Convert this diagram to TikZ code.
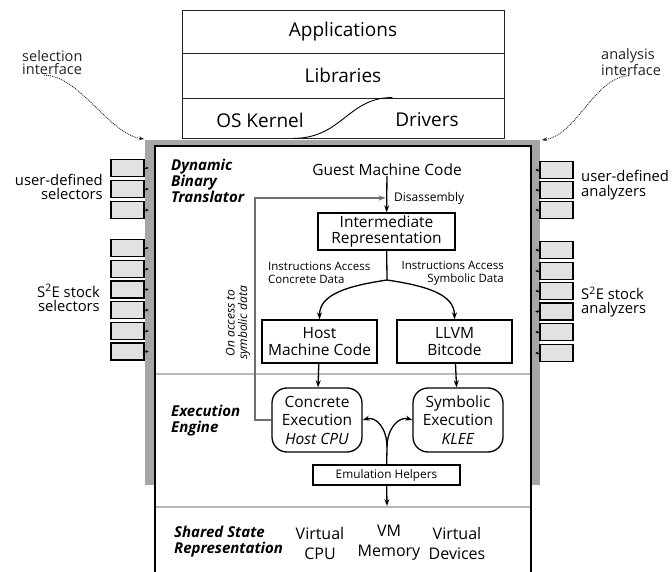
\documentclass[tikz,border=0pt]{standalone}
\usepackage{fontspec}
\setmainfont{Open Sans}
\usetikzlibrary{arrows.meta, positioning, calc}
\definecolor{FrameGray}{HTML}{A6A6A6}
\definecolor{RuleGray}{HTML}{B8B8B8}
\definecolor{PlugFill}{HTML}{E2E2E2}
\definecolor{LoopGray}{HTML}{6E6E6E}
\definecolor{InkDark}{HTML}{222222}

\begin{document}
\begin{tikzpicture}[x=1pt, y=-1pt,
  layer/.style={draw=InkDark, line width=0.9pt, minimum width=322pt,
                inner sep=0pt, font=\fontsize{19}{20}\selectfont},
  box/.style={draw=black, line width=1.3pt, fill=white, align=center,
              inner sep=0pt, font=\fontsize{15.5}{16.5}\selectfont},
  engine/.style={box, rounded corners=15pt, minimum width=90pt, minimum height=64pt,
                 font=\fontsize{15.5}{18.5}\selectfont},
  txt/.style={align=center, inner sep=0pt, font=\fontsize{15.5}{20}\selectfont},
  sect/.style={align=left, inner sep=0pt, font=\fontsize{15}{16}\selectfont\bfseries\itshape},
  lbl/.style={inner sep=0pt, font=\fontsize{11.5}{12.5}\selectfont},
  side/.style={inner sep=0pt, font=\fontsize{14.8}{14.5}\selectfont},
  note/.style={inner sep=0pt, align=left, text=InkDark, font=\fontsize{14.5}{13}\selectfont},
  plug/.style={draw=black, line width=1.3pt, fill=PlugFill, minimum width=33pt,
               minimum height=17pt, inner sep=0pt},
  arr/.style={-{Stealth[length=7pt, width=5pt]}, line width=1.3pt},
  tick/.style={-{Stealth[length=3pt, width=3pt]}, line width=0.8pt},
  fb/.style={-{Stealth[length=7pt, width=5pt]}, line width=1.3pt, LoopGray},
  hint/.style={-{Stealth[length=5pt, width=4pt]}, line width=0.9pt, densely dotted, InkDark},
]
  \useasboundingbox (0,0) rectangle (672,572);

  % software stack
  \node[layer, minimum height=43pt] (apps) at (343,31.5) {Applications};
  \node[layer, minimum height=45pt] (libs) at (343,75.5) {Libraries};
  \node[layer, minimum height=40pt] (osrow) at (343,118) {};
  \node[txt, font=\fontsize{19}{20}\selectfont] (kernel) at (260,120) {OS Kernel};
  \node[txt, font=\fontsize{19}{20}\selectfont] (drivers) at (427,120) {Drivers};
  \draw[line width=0.9pt] (osrow.south west) ++(111,0) .. controls +(50,0) and +(-45,0) .. ([xshift=-112pt]osrow.north east);

  % S2E frame
  \fill[FrameGray] (145,140) rectangle (540,485);
  \draw[line width=1.3pt, fill=white] (155,572) -- (155,146) -- (531,146) -- (531,572);
  \draw[RuleGray, line width=1.2pt] (156,374) -- (530,374);
  \draw[RuleGray, line width=1.2pt] (156,507) -- (530,507);

  % section titles
  \node[sect, anchor=north west] (dbt) at (171,159) {Dynamic\\Binary\\Translator};
  \node[sect, anchor=west] (ee) at (171,421) {Execution\\Engine};
  \node[sect, anchor=west] (ssr) at (174,542) {Shared State\\Representation};

  % translator
  \node[txt] (guest) at (387,170) {Guest Machine Code};
  \node[box, minimum width=137pt, minimum height=37pt] (ir) at (386.5,231.5) {Intermediate\\Representation};
  \node[box, minimum width=115pt, minimum height=43pt] (host) at (319.5,341.5) {Host\\Machine Code};
  \node[box, minimum width=115pt, minimum height=43pt] (llvm) at (454.5,341.5) {LLVM\\Bitcode};
  \coordinate (split) at (387,280);

  \draw[arr] (guest) -- (ir);
  \node[lbl, anchor=west, font=\fontsize{12}{13}\selectfont] (disasm) at (394,198) {Disassembly};
  \draw[line width=1.3pt] (ir) -- (split);
  \draw[arr] (split) .. controls +(-40,6) and +(0,-25) .. (host.north);
  \draw[arr] (split) .. controls +(40,6) and +(0,-25) .. (llvm.north);
  \node[lbl, anchor=west, align=left] (conclbl) at (268,273) {Instructions Access\\Concrete Data};
  \node[lbl, anchor=east, align=right] (symlbl) at (504,273) {Instructions Access\\Symbolic Data};

  % execution engine
  \node[engine] (conc) at (317,420) {Concrete\\Execution\\\textit{Host CPU}};
  \node[engine] (symb) at (458,420) {Symbolic\\Execution\\\textit{KLEE}};
  \node[box, line width=1.2pt, minimum width=147pt, minimum height=20pt,
        font=\fontsize{11.8}{12}\selectfont] (emu) at (386.5,475) {Emulation Helpers};
  \coordinate (emusplit) at (387,447);
  \coordinate (state) at (387,506);
  \coordinate (fbturn) at (255,198);

  \draw[arr] (host) -- (conc);
  \draw[arr] (llvm) -- (symb);
  \draw[line width=1.3pt] (emu) -- (emusplit);
  \draw[arr] (emusplit) .. controls +(0,-18) and +(14,-4) .. (conc.east);
  \draw[arr] (emusplit) .. controls +(0,-18) and +(-14,-4) .. (symb.west);
  \draw[arr] (emu) -- (state);
  \draw[fb] (conc.west) -| (fbturn) -- ([xshift=-1pt]fbturn -| ir.north);
  \node[lbl, rotate=90, align=center, font=\fontsize{12}{12.5}\selectfont\itshape] (fblbl) at (238,323) {On access to\\symbolic data};

  % shared state
  \node[txt, font=\fontsize{16}{20}\selectfont] (vcpu) at (320,543) {Virtual\\CPU};
  \node[txt, font=\fontsize{16}{20}\selectfont] (vmem) at (389,543) {VM\\Memory};
  \node[txt, font=\fontsize{16}{20}\selectfont] (vdev) at (457,543) {Virtual\\Devices};

  % selectors
  \foreach \y [count=\i] in {168,189,210} {
    \node[plug] (usel\i) at (127.5,\y) {};
    \draw[tick] (usel\i.east) -- ++(4,0);
  }
  \foreach \y [count=\i] in {248,269,289.5,310,331,351.5} {
    \node[plug] (ssel\i) at (127.5,\y) {};
    \draw[tick] (ssel\i.east) -- ++(4,0);
  }
  \node[side, anchor=east, align=right] (usellbl) at (103,187) {user-defined\\selectors};
  \node[side, anchor=east, align=right] (ssellbl) at (100,298) {S\textsuperscript{2}E stock\\selectors};

  % analyzers
  \foreach \y [count=\i] in {170,190,210} {
    \node[plug] (uana\i) at (556.5,\y) {};
    \draw[tick] (uana\i.west) -- ++(-4,0);
  }
  \foreach \y [count=\i] in {250,271,291,311.5,332,353} {
    \node[plug] (sana\i) at (556.5,\y) {};
    \draw[tick] (sana\i.west) -- ++(-4,0);
  }
  \node[side, anchor=west, align=left] (uanalbl) at (581,185) {user-defined\\analyzers};
  \node[side, anchor=west, align=left] (sanalbl) at (581,302) {S\textsuperscript{2}E stock\\analyzers};

  % interfaces
  \node[note, anchor=west] (selif) at (22,63) {selection\\interface};
  \node[note, anchor=west] (anaif) at (601,62) {analysis\\interface};
  \coordinate (selcorner) at (144,139);
  \coordinate (anacorner) at (542,140);
  \draw[hint] ([xshift=-8pt]selif.south) .. controls +(35,0) and +(-35,-5) .. (selcorner);
  \draw[hint] ([xshift=-2pt]anaif.south) .. controls +(-35,2) and +(35,-5) .. (anacorner);
\end{tikzpicture}
\end{document}
